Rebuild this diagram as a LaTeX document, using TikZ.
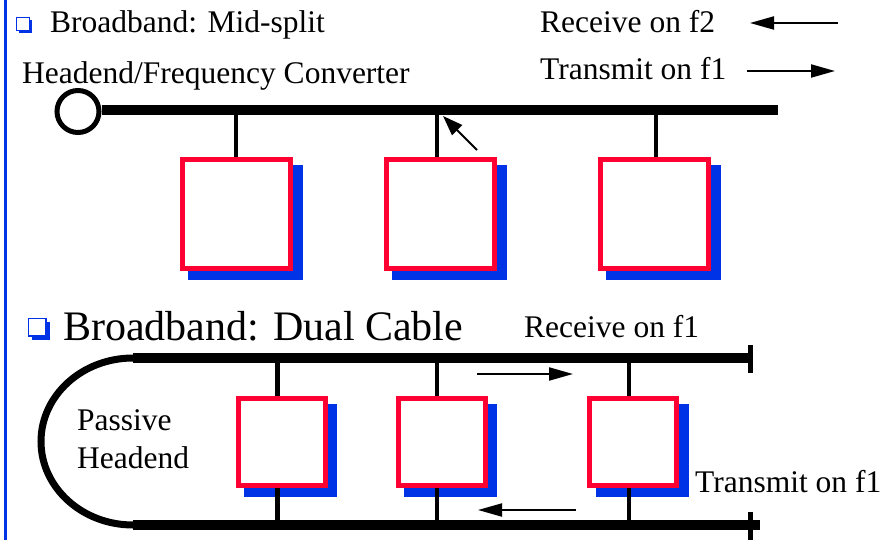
\documentclass[tikz,border=0pt]{standalone}
\usepackage{fontspec}
\setmainfont{Liberation Serif}
\usetikzlibrary{arrows.meta}
\definecolor{boxred}{RGB}{255,0,51}
\definecolor{shblue}{RGB}{0,51,230}
\begin{document}
\begin{tikzpicture}[x=1pt,y=-1pt,
  lbl/.style={anchor=base west, inner sep=0pt, font=\fontsize{31.5}{36}\selectfont},
  biglbl/.style={anchor=base west, inner sep=0pt, font=\fontsize{42}{48}\selectfont},
  cable/.style={line width=10pt},
  stub/.style={line width=4.5pt},
  capline/.style={line width=5pt},
  sig/.style={line width=2pt, -{Triangle[length=24pt,width=13pt]}},
  topbox/.style={draw=boxred, line width=5pt, fill=white, minimum width=108pt, minimum height=109pt, inner sep=0pt},
  topsh/.style={fill=shblue, minimum width=115pt, minimum height=115pt, inner sep=0pt},
  botbox/.style={draw=boxred, line width=5pt, fill=white, minimum width=87pt, minimum height=87pt, inner sep=0pt},
  botsh/.style={fill=shblue, minimum width=93pt, minimum height=93pt, inner sep=0pt}
]
\useasboundingbox (0,0) rectangle (885,540);
\fill[white] (0,0) rectangle (885,540);
% left rule
\draw[shblue, line width=3pt] (5.5,0) -- (5.5,540);

% ---------- Mid-split ----------
\fill[shblue] (19,20) rectangle (32,33);
\filldraw[fill=white, draw=shblue, line width=1pt] (16.5,17.5) rectangle (29.5,30.5);
\node[lbl] (h1) at (50,33) {Broadband: Mid-split};
\node[lbl] (hfc) at (22,84) {Headend/Frequency Converter};
\node[lbl] (rf2) at (540,33) {Receive on f2};
\node[lbl] (tf1) at (540,80) {Transmit on f1};
\coordinate (ra1) at (838,23);
\coordinate (ra2) at (750,23);
\coordinate (ta1) at (747,71);
\coordinate (ta2) at (835,71);
\draw[sig] (ra1) -- (ra2);
\draw[sig] (ta1) -- (ta2);

\node[circle, draw, line width=5pt, minimum size=42pt, inner sep=0pt, fill=white] (he) at (78,111.5) {};
\coordinate (tend) at (778,110);
\draw[cable] (he.east |- tend) -- (tend);

\node[topsh] (s1) at (245.5,222.5) {};
\node[topsh] (s2) at (449.5,222.5) {};
\node[topsh] (s3) at (663.5,222.5) {};
\node[topbox] (b1) at (236.5,214) {};
\node[topbox] (b2) at (440,214) {};
\node[topbox] (b3) at (654,214) {};
\coordinate (c1) at (236,110);
\coordinate (c2) at (437,110);
\coordinate (c3) at (656,110);
\draw[stub] (c1) -- (c1 |- b1.north);
\draw[stub] (c2) -- (c2 |- b2.north);
\draw[stub] (c3) -- (c3 |- b3.north);
\coordinate (da1) at (477,150);
\coordinate (da2) at (443,116);
\draw[line width=2pt, -{Triangle[length=20pt,width=14pt]}] (da1) -- (da2);

% ---------- Dual cable ----------
\fill[shblue] (32,322) rectangle (50,340);
\filldraw[fill=white, draw=shblue, line width=1.2pt] (28.5,318.5) rectangle (46,336);
\node[biglbl] (h2) at (63,340) {Broadband: Dual Cable};
\node[lbl] (rf1) at (524,337) {Receive on f1};
\node[lbl] (tf1b) at (695,492) {Transmit on f1};
\node[lbl] (pas) at (77,430) {Passive};
\node[lbl] (phe) at (77,468) {Headend};

\coordinate (a1) at (133,358);
\coordinate (a2) at (133,525);
\coordinate (e1) at (749,358);
\coordinate (e2) at (760,525);
\draw[line width=7pt] (a1) arc[start angle=-90, end angle=-270, x radius=92, y radius=83.5];
\draw[cable] (a1) -- (e1);
\draw[cable] (a2) -- (e2);
\coordinate (k1a) at (750.5,345);
\coordinate (k1b) at (750.5,373);
\coordinate (k2a) at (750.5,512);
\coordinate (k2b) at (750.5,540);
\draw[capline] (k1a) -- (k1b);
\draw[capline] (k2a) -- (k2b);

\node[botsh] (q1) at (290.5,450.5) {};
\node[botsh] (q2) at (450.5,450.5) {};
\node[botsh] (q3) at (642,450.5) {};
\node[botbox] (d1) at (281.5,442) {};
\node[botbox] (d2) at (441.5,442) {};
\node[botbox] (d3) at (633,442) {};
\coordinate (u1) at (277.5,358);
\coordinate (u2) at (437,358);
\coordinate (u3) at (629,358);
\coordinate (l1) at (277.5,525);
\coordinate (l2) at (437,525);
\coordinate (l3) at (629,525);
\draw[stub] (u1) -- (u1 |- d1.north);
\draw[stub] (u2) -- (u2 |- d2.north);
\draw[stub] (u3) -- (u3 |- d3.north);
\draw[stub] (l1 |- d1.south) -- (l1);
\draw[stub] (l2 |- d2.south) -- (l2);
\draw[stub] (l3 |- d3.south) -- (l3);

\coordinate (ua1) at (477,374);
\coordinate (ua2) at (573,374);
\coordinate (la1) at (576,510);
\coordinate (la2) at (478,510);
\draw[sig] (ua1) -- (ua2);
\draw[sig] (la1) -- (la2);
\end{tikzpicture}
\end{document}
